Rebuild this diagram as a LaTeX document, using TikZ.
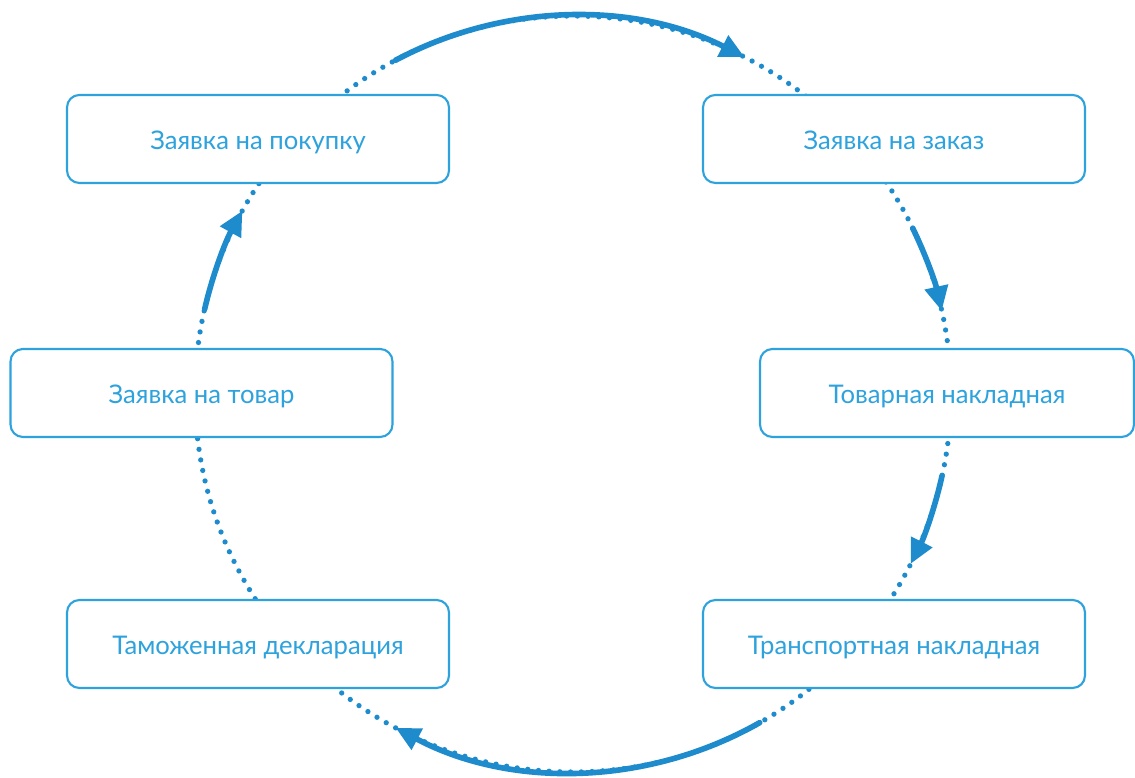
\documentclass[tikz,border=0pt]{standalone}
\usepackage{fontspec}
\setmainfont{Lato}
\usetikzlibrary{arrows.meta}
\definecolor{docblue}{RGB}{45,162,221}
\definecolor{flowblue}{RGB}{30,139,205}

\begin{document}
\begin{tikzpicture}[x=0.02cm,y=0.02cm,
    doc/.style={draw=docblue,line width=1.2pt,rounded corners=7pt,fill=white,text=docblue,
      minimum width=7.64cm,minimum height=1.76cm,inner sep=0pt,text height=14pt,text depth=2.5pt,
      font=\fontsize{14.6}{16}\selectfont},
    dots/.style={flowblue,line width=3pt,line cap=round,dash pattern=on 0pt off 6.1pt},
    flow/.style={flowblue,line width=3.2pt,line cap=round,-{Triangle[length=14pt,width=13pt]}}]
            \useasboundingbox (0,0) rectangle (1135,777);
            \coordinate (c) at (573,383);
            \draw[dots] (c) circle (378);
            \draw[flow] ([shift={(118:378)}]c) arc[start angle=118, end angle=63, radius=378];
            \draw[flow] ([shift={(26:378)}]c) arc[start angle=26, end angle=12.7, radius=378];
            \draw[flow] ([shift={(-12.5:378)}]c) arc[start angle=-12.5, end angle=-26.7, radius=378];
            \draw[flow] ([shift={(-60.4:378)}]c) arc[start angle=-60.4, end angle=-118, radius=378];
            \draw[flow] ([shift={(167:378)}]c) arc[start angle=167, end angle=151, radius=378];
            \node[doc] (pokupka) at (258,638) {Заявка на покупку};
            \node[doc] (zakaz) at (894,638) {Заявка на заказ};
            \node[doc] (tovar) at (201.5,384) {Заявка на товар};
            \node[doc,minimum width=7.48cm] (nakladnaya) at (947,384) {Товарная накладная};
            \node[doc] (tamozhnya) at (258,133) {Таможенная декларация};
            \node[doc] (transport) at (894,133) {Транспортная накладная};
\end{tikzpicture}
\end{document}
